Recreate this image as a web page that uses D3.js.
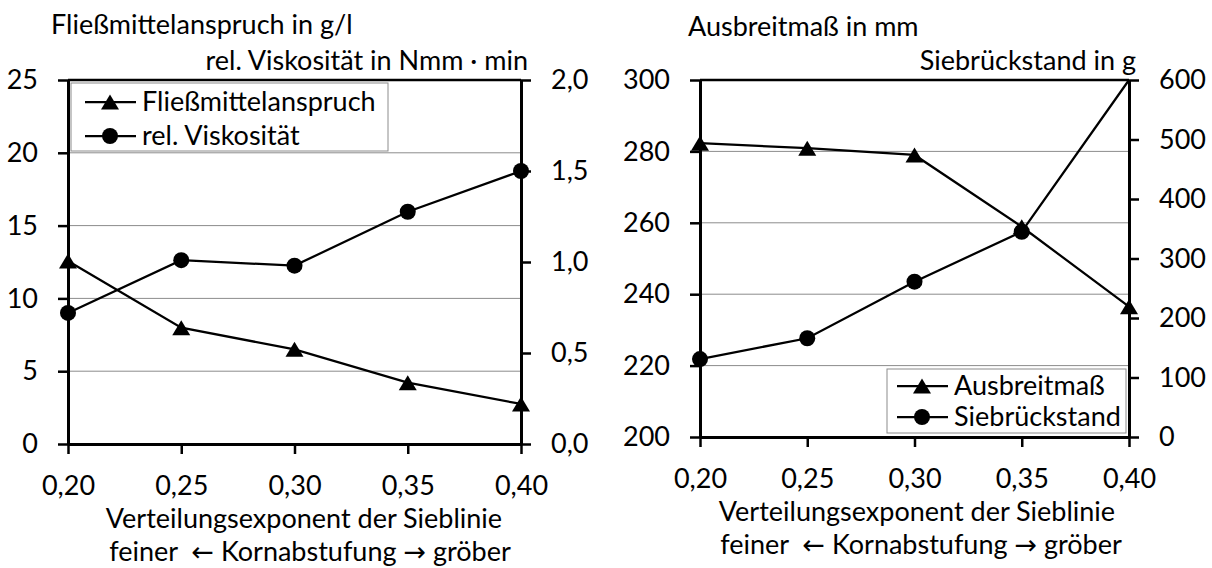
<!DOCTYPE html>
<html lang="de">
<head>
  <meta charset="UTF-8">
  <script src="https://d3js.org/d3.v7.min.js"></script>
  <style>
    body { margin: 0; background: #fff; }
    svg { display: block; }
    text { font-family: Lato, "Open Sans", sans-serif; font-size: 27px; fill: #000; }
    .arrow { font-family: "DejaVu Sans", sans-serif; font-size: 27px; }
  </style>
</head>
<body>
  <svg id="chart" width="1212" height="568"></svg>
  <script>
    // data
    const xValues = [0.20, 0.25, 0.30, 0.35, 0.40]

    // left diagram
    const fliessmittelanspruch = [12.57, 7.99, 6.5, 4.21, 2.75]   // g/l, left axis
    const relViskositaet = [0.72, 1.01, 0.98, 1.276, 1.50]        // Nmm·min, right axis
    const leftTicksA = [0, 5, 10, 15, 20, 25]
    const rightTicksA = [0, 0.5, 1.0, 1.5, 2.0]

    // right diagram
    const ausbreitmass = [282.3, 280.9, 279, 258.9, 236.5]        // mm, left axis
    const siebrueckstand = [131, 166, 261, 345, 600]              // g, right axis
    const leftTicksB = [200, 220, 240, 260, 280, 300]
    const rightTicksB = [0, 100, 200, 300, 400, 500, 600]

    // german number format (comma as decimal sign)
    const de = d3.formatLocale({ decimal: ",", thousands: ".", grouping: [3], currency: ["", " €"] })

    const svg = d3.select('#chart')

    // triangle marker centred on its box like in excel
    function triangle(w, h) {
      return `M0,${-h / 2}L${w / 2},${h / 2}L${-w / 2},${h / 2}Z`
    }

    function drawPanel(p) {
      const g = svg.append('g')

      const x = d3.scaleLinear().domain([0.20, 0.40]).range([p.left, p.right])
      const yL = d3.scaleLinear().domain(d3.extent(p.leftTicks)).range([p.bottom, p.top])
      const yR = d3.scaleLinear().domain(d3.extent(p.rightTicks)).range([p.bottom, p.top])

      // grid lines (gray, only the inner ones)
      g.append('g')
        .selectAll('line')
        .data(p.leftTicks.slice(1, -1))
        .enter()
        .append('line')
        .attr('x1', p.left).attr('x2', p.right)
        .attr('y1', d => yL(d)).attr('y2', d => yL(d))
        .attr('stroke', '#8c8c8c')
        .attr('stroke-width', 1)

      // top border
      g.append('line')
        .attr('x1', p.left).attr('x2', p.right)
        .attr('y1', p.top).attr('y2', p.top)
        .attr('stroke', '#000').attr('stroke-width', 2.5)

      // left axis
      const leftAxis = d3.axisLeft(yL)
        .tickValues(p.leftTicks)
        .tickFormat(p.leftFormat)
        .tickSize(10).tickSizeOuter(0).tickPadding(20)
      g.append('g').attr('transform', `translate(${p.left},0)`).call(leftAxis)

      // right axis
      const rightAxis = d3.axisRight(yR)
        .tickValues(p.rightTicks)
        .tickFormat(p.rightFormat)
        .tickSize(10).tickSizeOuter(0).tickPadding(20)
      g.append('g').attr('transform', `translate(${p.right},0)`).call(rightAxis)

      // bottom axis
      const bottomAxis = d3.axisBottom(x)
        .tickValues(xValues)
        .tickFormat(de.format('.2f'))
        .tickSize(10).tickSizeOuter(0).tickPadding(22)
      g.append('g').attr('transform', `translate(0,${p.bottom})`).call(bottomAxis)

      g.selectAll('.domain').attr('stroke', '#000').attr('stroke-width', 3)
      g.selectAll('.tick line').attr('stroke', '#000').attr('stroke-width', 2.5)
      g.selectAll('.tick text').attr('font-size', null).attr('font-family', null).attr('fill', '#000')

      // lines
      const lineL = d3.line().x((d, i) => x(xValues[i])).y(d => yL(d))
      const lineR = d3.line().x((d, i) => x(xValues[i])).y(d => yR(d))

      g.append('path').datum(p.series1).attr('d', lineL)
        .attr('fill', 'none').attr('stroke', '#000').attr('stroke-width', 2.25)
      g.append('path').datum(p.series2).attr('d', lineR)
        .attr('fill', 'none').attr('stroke', '#000').attr('stroke-width', 2.25)

      // markers: triangles for left series, circles for right series
      g.append('g')
        .selectAll('path')
        .data(p.series1)
        .enter()
        .append('path')
        .attr('d', triangle(18, 15))
        .attr('transform', (d, i) => `translate(${x(xValues[i])},${yL(d)})`)
        .attr('fill', '#000')

      // the last point of a series sitting on the axis maximum shows no marker
      g.append('g')
        .selectAll('circle')
        .data(p.series2.map((v, i) => ({ v, i })).filter(d => d.v < yR.domain()[1]))
        .enter()
        .append('circle')
        .attr('cx', d => x(xValues[d.i]))
        .attr('cy', d => yR(d.v))
        .attr('r', 8)
        .attr('fill', '#000')

      // legend
      const L = p.legend
      const lg = g.append('g')
      lg.append('rect')
        .attr('x', L.x).attr('y', L.y)
        .attr('width', L.w).attr('height', L.h)
        .attr('fill', '#fff').attr('stroke', '#8c8c8c').attr('stroke-width', 1)
      L.items.forEach((item, k) => {
        const cy = L.y + L.rows[k]
        const lx = L.x + L.pad
        lg.append('line')
          .attr('x1', lx).attr('x2', lx + 51)
          .attr('y1', cy).attr('y2', cy)
          .attr('stroke', '#000').attr('stroke-width', 2.25)
        if (item.marker === 'triangle') {
          lg.append('path').attr('d', triangle(18, 15))
            .attr('transform', `translate(${lx + 25},${cy})`).attr('fill', '#000')
        } else {
          lg.append('circle').attr('cx', lx + 25).attr('cy', cy).attr('r', 8).attr('fill', '#000')
        }
        lg.append('text')
          .attr('x', lx + 57).attr('y', cy).attr('dy', '0.35em')
          .text(item.label)
      })

      // axis titles
      g.append('text').attr('x', p.titleL.x).attr('y', p.titleL.y).text(p.titleL.text)
      g.append('text').attr('x', p.titleR.x).attr('y', p.titleR.y)
        .attr('text-anchor', 'end').text(p.titleR.text)
      g.append('text').attr('x', p.xTitle.x).attr('y', p.xTitle.y)
        .attr('text-anchor', 'middle').text('Verteilungsexponent der Sieblinie')

      const sub = g.append('text').attr('x', p.xTitle.x2).attr('y', p.xTitle.y + 33)
        .attr('text-anchor', 'middle').style('white-space', 'pre')
      sub.append('tspan').text('feiner  ')
      sub.append('tspan').attr('class', 'arrow').text('\u2190')
      sub.append('tspan').text(' Kornabstufung ')
      sub.append('tspan').attr('class', 'arrow').text('\u2192')
      sub.append('tspan').text(' gröber')
    }

    // left diagram
    drawPanel({
      left: 68, right: 521, top: 80, bottom: 444,
      leftTicks: leftTicksA, rightTicks: rightTicksA,
      leftFormat: de.format('d'), rightFormat: de.format('.1f'),
      series1: fliessmittelanspruch, series2: relViskositaet,
      legend: {
        x: 71, y: 83, w: 317, h: 68, rows: [19, 53], pad: 14,
        items: [{ label: 'Fließmittelanspruch', marker: 'triangle' }, { label: 'rel. Viskosität', marker: 'circle' }]
      },
      titleL: { x: 51, y: 34, text: 'Fließmittelanspruch in g/l' },
      titleR: { x: 528, y: 70, text: 'rel. Viskosität in Nmm · min' },
      xTitle: { x: 304, x2: 310, y: 528 }
    })

    // right diagram
    drawPanel({
      left: 700, right: 1129, top: 80, bottom: 437,
      leftTicks: leftTicksB, rightTicks: rightTicksB,
      leftFormat: de.format('d'), rightFormat: de.format('d'),
      series1: ausbreitmass, series2: siebrueckstand,
      legend: {
        x: 887, y: 369, w: 239, h: 64, rows: [17, 48], pad: 10,
        items: [{ label: 'Ausbreitmaß', marker: 'triangle' }, { label: 'Siebrückstand', marker: 'circle' }]
      },
      titleL: { x: 688, y: 36, text: 'Ausbreitmaß in mm' },
      titleR: { x: 1136, y: 70, text: 'Siebrückstand in g' },
      xTitle: { x: 917, x2: 921, y: 521 }
    })
  </script>
</body>
</html>
